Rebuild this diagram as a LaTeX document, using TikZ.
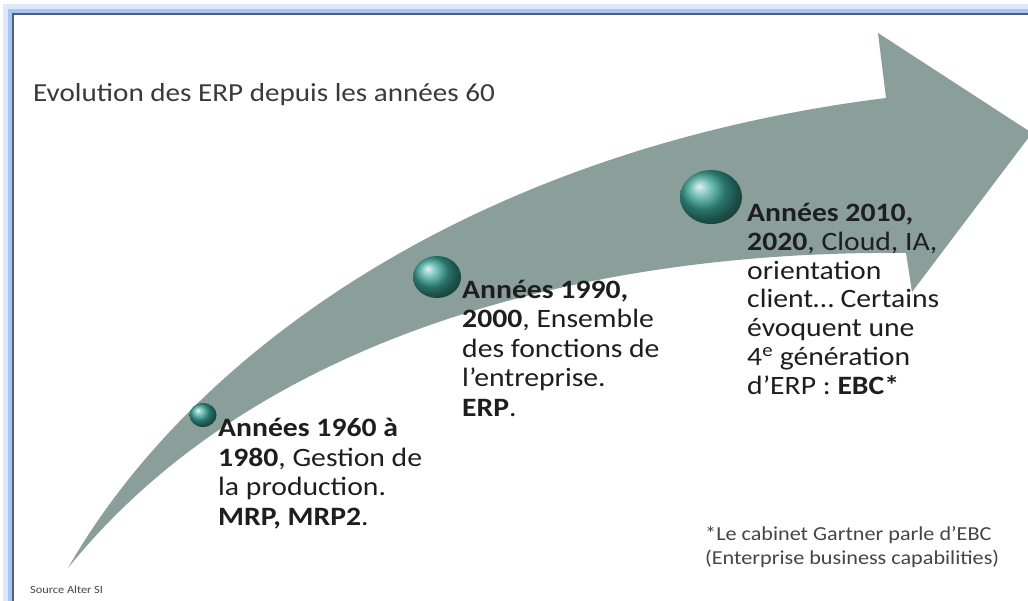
\documentclass[tikz,border=0pt]{standalone}
\usepackage{fontspec}
\setmainfont{Carlito}[FakeStretch=1.12]
\usetikzlibrary{shapes.geometric}
\definecolor{framedark}{HTML}{4D5E75}
\definecolor{frameglow}{HTML}{A9C6F2}
\definecolor{arrowgrey}{HTML}{8A9E9A}
\definecolor{beadteal}{HTML}{3AA496}
\definecolor{titletext}{HTML}{3A3A3A}
\definecolor{eratext}{HTML}{1E1E1E}
\definecolor{notetext}{HTML}{454545}
\begin{document}
\begin{tikzpicture}[x=1pt,y=-1pt,
		every node/.style={inner sep=0pt, anchor=base west, align=left},
		era/.style={font=\fontsize{26.5}{29.4}\selectfont, text=eratext},
		bead/.style={ellipse, anchor=center, shading=ball, ball color=beadteal}]
		\useasboundingbox (0,0) rectangle (1028,600);
		\fill [white] (0,0) rectangle (1028,600);
		\draw [frameglow!40, line width=10] (8,9) rectangle (1060,640);
		\draw [frameglow, line width=4] (10,11) rectangle (1060,640);
		\draw [framedark, line width=2.5] (13,14) rectangle (1060,640);
		\fill [arrowgrey] (68,568) .. controls (190,355) and (470,150) .. (886,98)
			-- (878,33) -- (1032,133) -- (912,292) -- (906,253)
			.. controls (600,250) and (260,330) .. (68,568) -- cycle;
		\node [font=\fontsize{26}{30}\selectfont, text=titletext] (title) at (33,101) {Evolution des ERP depuis les années 60};
		\node [bead, minimum width=27, minimum height=24] (bead1) at (203,415) {};
		\node [bead, minimum width=48, minimum height=42] (bead2) at (437,277) {};
		\node [bead, minimum width=62, minimum height=54] (bead3) at (711,197) {};
		\node [era] (era1) at (218,525) {\textbf{Années 1960 à}\\\textbf{1980}, Gestion de\\la production.\\\textbf{MRP, MRP2}.};
		\node [era] (era2) at (462,416) {\textbf{Années 1990,}\\\textbf{2000}, Ensemble\\des fonctions de\\l’entreprise.\\\textbf{ERP}.};
		\node [era, font=\fontsize{26.5}{28.7}\selectfont] (era3) at (747,394) {\textbf{Années 2010,}\\\textbf{2020}, Cloud, IA,\\orientation\\client… Certains\\évoquent une\\4\textsuperscript{e} génération\\d’ERP : \textbf{EBC*}};
		\node [font=\fontsize{19.8}{24}\selectfont, text=notetext] (note) at (705,564) {*Le cabinet Gartner parle d’EBC\\(Enterprise business capabilities)};
		\node [font=\fontsize{11}{13}\selectfont, text=notetext] (source) at (30,593) {Source Alter SI};
\end{tikzpicture}
\end{document}
